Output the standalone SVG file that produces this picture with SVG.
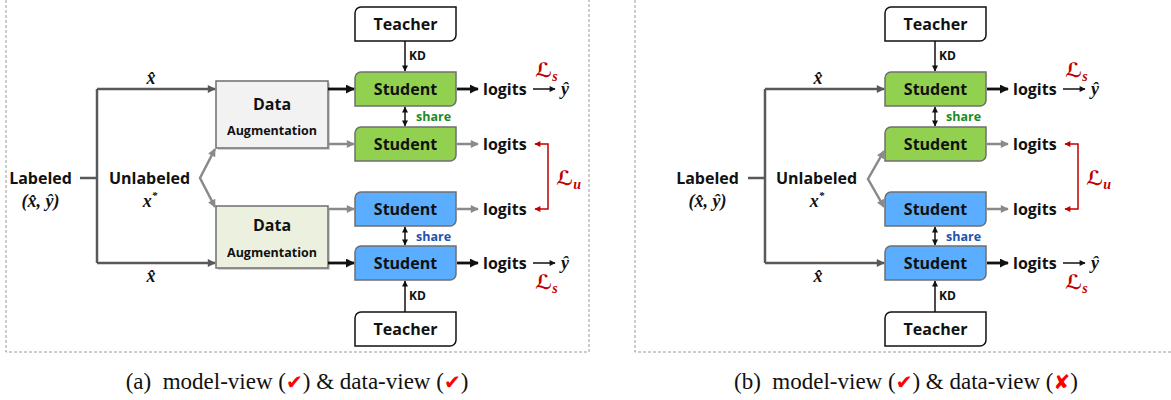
<svg xmlns="http://www.w3.org/2000/svg" width="1171" height="400" viewBox="0 0 1171 400">
<defs>
<style>
.lbl{font-family:"Open Sans","Noto Sans","DejaVu Sans",sans-serif;font-weight:bold;fill:#111}
.big{font-size:16px}
.aug{font-size:12.5px}
.kd{font-size:12px}
.share{font-size:12.5px}
.math{font-family:"Liberation Serif","DejaVu Serif",serif;font-style:italic;font-weight:bold;font-size:18px;fill:#111}
.loss{font-family:"Liberation Serif","DejaVu Serif","DejaVu Sans",serif;font-style:italic;font-weight:bold;font-size:20px;fill:#c00000}
.cap{font-family:"Liberation Serif","Times New Roman",serif;font-size:23px;fill:#111}
.chk{font-family:"DejaVu Sans",sans-serif;font-size:20px;fill:#ff0000}
.green{fill:#92d050;stroke:#6f6f6f;stroke-width:1.5}
.blue{fill:#5badff;stroke:#6f6f6f;stroke-width:1.5}
.teacher{fill:#fff;stroke:#111;stroke-width:1.5}
.da1{fill:#f2f2f2;stroke:#6f6f6f;stroke-width:1.5}
.da2{fill:#ebf1de;stroke:#6f6f6f;stroke-width:1.5}
.shadow{fill:#000;opacity:0.18}
.dk{fill:none;stroke:#595959;stroke-width:2.5}
.gr{fill:none;stroke:#8a8a8a;stroke-width:2.5}
.bk{fill:none;stroke:#111;stroke-width:2.8}
.thin{fill:none;stroke:#111;stroke-width:1.5}
.red{fill:none;stroke:#c00000;stroke-width:1.5}
.frame{fill:none;stroke:#9a9a9a;stroke-width:1;stroke-dasharray:3 2}
</style>
<marker id="aDk" viewBox="0 0 10 10" refX="9" refY="5" markerWidth="9" markerHeight="8" markerUnits="userSpaceOnUse" orient="auto-start-reverse"><path d="M0,0 L10,5 L0,10 z" fill="#595959"/></marker>
<marker id="aGr" viewBox="0 0 10 10" refX="9" refY="5" markerWidth="9" markerHeight="8" markerUnits="userSpaceOnUse" orient="auto-start-reverse"><path d="M0,0 L10,5 L0,10 z" fill="#8a8a8a"/></marker>
<marker id="aBk" viewBox="0 0 10 10" refX="9" refY="5" markerWidth="9" markerHeight="9" markerUnits="userSpaceOnUse" orient="auto-start-reverse"><path d="M0,0 L10,5 L0,10 z" fill="#111"/></marker>
<marker id="aTh" viewBox="0 0 10 10" refX="9" refY="5" markerWidth="7" markerHeight="6" markerUnits="userSpaceOnUse" orient="auto-start-reverse"><path d="M0,0 L10,5 L0,10 z" fill="#111"/></marker>
<marker id="aRd" viewBox="0 0 10 10" refX="9" refY="5" markerWidth="7" markerHeight="6" markerUnits="userSpaceOnUse" orient="auto-start-reverse"><path d="M0,0 L10,5 L0,10 z" fill="#c00000"/></marker>
</defs>

<!-- frames -->
<path class="frame" d="M6,0 V352 H589 V0"/>
<path class="frame" d="M635,0 V352 H1171"/>

<!-- ============ Panel (a) ============ -->
<g id="a-labeled"><text class="lbl big" x="40.5" y="184" text-anchor="middle">Labeled</text><text class="math" x="40.5" y="207" text-anchor="middle">(x̂, ŷ)</text></g>
<g id="a-unlabeled"><text class="lbl big" x="149.5" y="184" text-anchor="middle">Unlabeled</text><text class="math" x="150" y="207" text-anchor="middle">x<tspan font-size="11" dy="-8">*</tspan></text></g>
<g id="a-xhat-top"><text class="math" x="151" y="84" text-anchor="middle">x̂</text></g>
<g id="a-xhat-bot"><text class="math" x="151" y="282" text-anchor="middle">x̂</text></g>

<g id="a-da1"><rect class="shadow" x="218" y="83" width="112" height="67"/><rect class="da1" x="216" y="81" width="112" height="67"/><text class="lbl big" x="272" y="110" text-anchor="middle">Data</text><text class="lbl aug" x="272" y="135" text-anchor="middle">Augmentation</text></g>
<g id="a-da2"><rect class="shadow" x="218" y="208" width="112" height="62"/><rect class="da2" x="216" y="206" width="112" height="62"/><text class="lbl big" x="272" y="231" text-anchor="middle">Data</text><text class="lbl aug" x="272" y="257" text-anchor="middle">Augmentation</text></g>

<g id="a-teacher1"><path class="teacher" d="M361,7 H456 V35 A6,6 0 0 1 450,41 H355 V13 A6,6 0 0 1 361,7 Z"/><text class="lbl big" x="405.5" y="29.5" text-anchor="middle">Teacher</text></g>
<g id="a-student1"><path class="green" d="M361,72 H456 V100 A6,6 0 0 1 450,106 H355 V78 A6,6 0 0 1 361,72 Z"/><text class="lbl big" x="405.5" y="94.5" text-anchor="middle">Student</text></g>
<g id="a-student2"><path class="green" d="M361,127 H456 V155 A6,6 0 0 1 450,161 H355 V133 A6,6 0 0 1 361,127 Z"/><text class="lbl big" x="405.5" y="149.5" text-anchor="middle">Student</text></g>
<g id="a-student3"><path class="blue" d="M361,192 H456 V220 A6,6 0 0 1 450,226 H355 V198 A6,6 0 0 1 361,192 Z"/><text class="lbl big" x="405.5" y="214.5" text-anchor="middle">Student</text></g>
<g id="a-student4"><path class="blue" d="M361,246 H456 V274 A6,6 0 0 1 450,280 H355 V252 A6,6 0 0 1 361,246 Z"/><text class="lbl big" x="405.5" y="268.5" text-anchor="middle">Student</text></g>
<g id="a-teacher2"><path class="teacher" d="M361,312 H456 V340 A6,6 0 0 1 450,346 H355 V318 A6,6 0 0 1 361,312 Z"/><text class="lbl big" x="405.5" y="334.5" text-anchor="middle">Teacher</text></g>

<g id="a-logits1"><text class="lbl big" x="483" y="95">logits</text></g>
<g id="a-logits2"><text class="lbl big" x="483" y="150">logits</text></g>
<g id="a-logits3"><text class="lbl big" x="483" y="215">logits</text></g>
<g id="a-logits4"><text class="lbl big" x="483" y="269">logits</text></g>
<g id="a-yhat1"><text class="math" x="565" y="95" text-anchor="middle">ŷ</text></g>
<g id="a-yhat2"><text class="math" x="565" y="269" text-anchor="middle">ŷ</text></g>
<g id="a-ls1"><text class="loss" x="535" y="77">ℒ<tspan font-size="14" dy="4">s</tspan></text></g>
<g id="a-ls2"><text class="loss" x="535" y="289">ℒ<tspan font-size="14" dy="4">s</tspan></text></g>
<g id="a-lu"><text class="loss" x="556" y="185">ℒ<tspan font-size="14" dy="4">u</tspan></text></g>

<g id="a-connectors">
<path class="dk" d="M80,178 H97"/>
<path class="dk" d="M97,89 V263"/>
<path class="dk" d="M97,89 H215" marker-end="url(#aDk)"/>
<path class="dk" d="M97,263 H215" marker-end="url(#aDk)"/>
<path class="gr" d="M215,149 L200,178 L215,207" marker-start="url(#aGr)" marker-end="url(#aGr)"/>
<path class="bk" d="M328,89 H354" marker-end="url(#aBk)"/>
<path class="gr" d="M328,144 H354" stroke-width="2" marker-end="url(#aGr)"/>
<path class="gr" d="M328,209 H354" stroke-width="2" marker-end="url(#aGr)"/>
<path class="bk" d="M328,263 H354" marker-end="url(#aBk)"/>
<path class="bk" d="M457,89 H478" marker-end="url(#aBk)"/>
<path class="gr" d="M457,144 H478" stroke-width="2" marker-end="url(#aGr)"/>
<path class="gr" d="M457,209 H478" stroke-width="2" marker-end="url(#aGr)"/>
<path class="bk" d="M457,263 H478" marker-end="url(#aBk)"/>
<path class="thin" d="M533,89 H555" marker-end="url(#aTh)"/>
<path class="thin" d="M533,263 H555" marker-end="url(#aTh)"/>
<path class="thin" d="M405,41 V71" marker-end="url(#aTh)"/>
<path class="thin" d="M405,312 V281" marker-end="url(#aTh)"/>
<path class="thin" d="M405,107 V126" marker-start="url(#aTh)" marker-end="url(#aTh)"/>
<path class="thin" d="M405,227 V245" marker-start="url(#aTh)" marker-end="url(#aTh)"/>
<path class="red" d="M535,144 H548 V209 H535" marker-start="url(#aRd)" marker-end="url(#aRd)"/>
<text class="lbl kd" x="409" y="60">KD</text>
<text class="lbl kd" x="409" y="300">KD</text>
<text class="lbl share" x="416" y="121" style="fill:#1e8a1e">share</text>
<text class="lbl share" x="416" y="241" style="fill:#2450b0">share</text>
</g>

<!-- ============ Panel (b) ============ -->
<g id="b-labeled"><text class="lbl big" x="707.5" y="184" text-anchor="middle">Labeled</text><text class="math" x="707.5" y="207" text-anchor="middle">(x̂, ŷ)</text></g>
<g id="b-unlabeled"><text class="lbl big" x="816.5" y="184" text-anchor="middle">Unlabeled</text><text class="math" x="817" y="207" text-anchor="middle">x<tspan font-size="11" dy="-8">*</tspan></text></g>
<g id="b-xhat-top"><text class="math" x="818" y="84" text-anchor="middle">x̂</text></g>
<g id="b-xhat-bot"><text class="math" x="818" y="282" text-anchor="middle">x̂</text></g>

<g id="b-teacher1"><path class="teacher" d="M891,7 H986 V35 A6,6 0 0 1 980,41 H885 V13 A6,6 0 0 1 891,7 Z"/><text class="lbl big" x="935.5" y="29.5" text-anchor="middle">Teacher</text></g>
<g id="b-student1"><path class="green" d="M891,72 H986 V100 A6,6 0 0 1 980,106 H885 V78 A6,6 0 0 1 891,72 Z"/><text class="lbl big" x="935.5" y="94.5" text-anchor="middle">Student</text></g>
<g id="b-student2"><path class="green" d="M891,127 H986 V155 A6,6 0 0 1 980,161 H885 V133 A6,6 0 0 1 891,127 Z"/><text class="lbl big" x="935.5" y="149.5" text-anchor="middle">Student</text></g>
<g id="b-student3"><path class="blue" d="M891,192 H986 V220 A6,6 0 0 1 980,226 H885 V198 A6,6 0 0 1 891,192 Z"/><text class="lbl big" x="935.5" y="214.5" text-anchor="middle">Student</text></g>
<g id="b-student4"><path class="blue" d="M891,246 H986 V274 A6,6 0 0 1 980,280 H885 V252 A6,6 0 0 1 891,246 Z"/><text class="lbl big" x="935.5" y="268.5" text-anchor="middle">Student</text></g>
<g id="b-teacher2"><path class="teacher" d="M891,312 H986 V340 A6,6 0 0 1 980,346 H885 V318 A6,6 0 0 1 891,312 Z"/><text class="lbl big" x="935.5" y="334.5" text-anchor="middle">Teacher</text></g>

<g id="b-logits1"><text class="lbl big" x="1013" y="95">logits</text></g>
<g id="b-logits2"><text class="lbl big" x="1013" y="150">logits</text></g>
<g id="b-logits3"><text class="lbl big" x="1013" y="215">logits</text></g>
<g id="b-logits4"><text class="lbl big" x="1013" y="269">logits</text></g>
<g id="b-yhat1"><text class="math" x="1095" y="95" text-anchor="middle">ŷ</text></g>
<g id="b-yhat2"><text class="math" x="1095" y="269" text-anchor="middle">ŷ</text></g>
<g id="b-ls1"><text class="loss" x="1065" y="77">ℒ<tspan font-size="14" dy="4">s</tspan></text></g>
<g id="b-ls2"><text class="loss" x="1065" y="289">ℒ<tspan font-size="14" dy="4">s</tspan></text></g>
<g id="b-lu"><text class="loss" x="1086" y="185">ℒ<tspan font-size="14" dy="4">u</tspan></text></g>

<g id="b-connectors">
<path class="dk" d="M748,178 H765"/>
<path class="dk" d="M765,89 V263"/>
<path class="dk" d="M765,89 H884" marker-end="url(#aDk)"/>
<path class="dk" d="M765,263 H884" marker-end="url(#aDk)"/>
<path class="gr" d="M884,151 L868,179 L884,207" marker-start="url(#aGr)" marker-end="url(#aGr)"/>
<path class="bk" d="M987,89 H1008" marker-end="url(#aBk)"/>
<path class="gr" d="M987,144 H1008" stroke-width="2" marker-end="url(#aGr)"/>
<path class="gr" d="M987,209 H1008" stroke-width="2" marker-end="url(#aGr)"/>
<path class="bk" d="M987,263 H1008" marker-end="url(#aBk)"/>
<path class="thin" d="M1063,89 H1085" marker-end="url(#aTh)"/>
<path class="thin" d="M1063,263 H1085" marker-end="url(#aTh)"/>
<path class="thin" d="M935,41 V71" marker-end="url(#aTh)"/>
<path class="thin" d="M935,312 V281" marker-end="url(#aTh)"/>
<path class="thin" d="M935,107 V126" marker-start="url(#aTh)" marker-end="url(#aTh)"/>
<path class="thin" d="M935,227 V245" marker-start="url(#aTh)" marker-end="url(#aTh)"/>
<path class="red" d="M1065,144 H1078 V209 H1065" marker-start="url(#aRd)" marker-end="url(#aRd)"/>
<text class="lbl kd" x="939" y="60">KD</text>
<text class="lbl kd" x="939" y="300">KD</text>
<text class="lbl share" x="946" y="121" style="fill:#1e8a1e">share</text>
<text class="lbl share" x="946" y="241" style="fill:#2450b0">share</text>
</g>

<!-- captions -->
<text class="cap" x="297" y="389" text-anchor="middle" xml:space="preserve">(a)  model-view (<tspan class="chk">✔</tspan>) &amp; data-view (<tspan class="chk">✔</tspan>)</text>
<text class="cap" x="906" y="389" text-anchor="middle" xml:space="preserve">(b)  model-view (<tspan class="chk">✔</tspan>) &amp; data-view (<tspan class="chk">✘</tspan>)</text>
</svg>
